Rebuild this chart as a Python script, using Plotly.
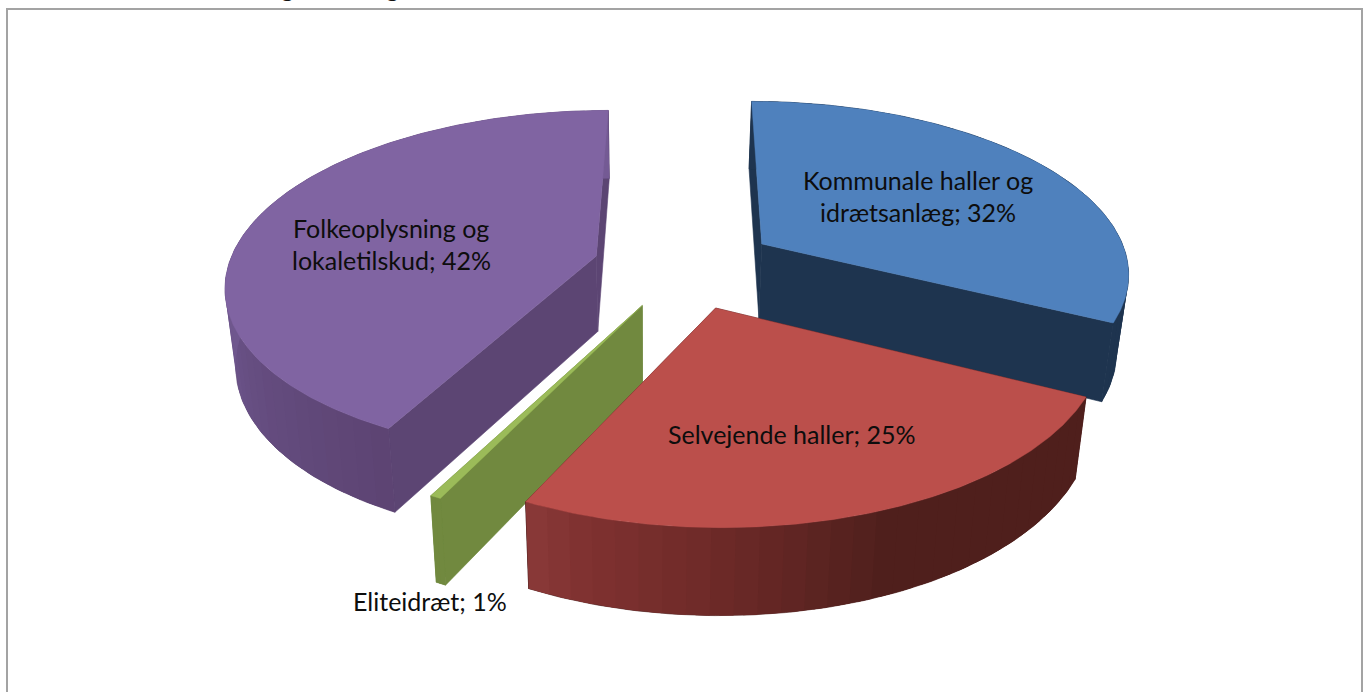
import numpy as np
import plotly.graph_objects as go

# ---- data (shares; labels show them rounded) ----
categories = ["Kommunale haller og idrætsanlæg", "Selvejende haller", "Eliteidræt", "Folkeoplysning og lokaletilskud"]
values = [32.4, 24.8, 0.4, 42.4]
label_lines = [["Kommunale haller og", "idrætsanlæg; {}%"], ["Selvejende haller; {}%"], ["Eliteidræt; {}%"], ["Folkeoplysning og", "lokaletilskud; {}%"]]
top_colors = ["#4f81bd", "#bb4f4b", "#9bbb59", "#8064a2"]
face_colors = ["#1e344f", "#4e1e1c", "#71893f", "#5c4573"]
rim_stops = [
    [(0, "#1e344f"), (360, "#1e344f")],
    [(0, "#4e1e1c"), (158, "#4f1f1c"), (183, "#702b29"), (197, "#7f3130"), (206, "#8a3a38")],
    [(0, "#71893f"), (360, "#71893f")],
    [(0, "#745a94"), (208, "#5d4473"), (235, "#644c7f"), (262, "#6f578e"), (360, "#745a94")],
]
label_pos = [(918, [180, 212]), (792, [434]), (430, [601]), (391, [228, 260])]
draw_order = [3, 0, 2, 1]

# ---- projection of the 3D pie ----
CX, CY, A, B, P, Q, H, EXPLODE = 685, 266, 368, 171, 0.155, 0.11, 76, 0.25
VANISH_X, LEAN = 650, 0.025


def project(X, Z, down=False):
    den = 1 + P * Z
    sx = CX + A * X / den
    sy = CY - B * Z / den
    if down:
        sx = sx - LEAN * (sx - VANISH_X)
        sy = sy + H / (1 + Q * Z)
    return sx, sy


def hex2rgb(c):
    return np.array([int(c[i:i + 2], 16) for i in (1, 3, 5)], float)


def rim_color(stops, deg):
    t = [s[0] for s in stops]
    rgb = np.array([hex2rgb(s[1]) for s in stops])
    return "rgb({:.0f},{:.0f},{:.0f})".format(*[np.interp(deg, t, rgb[:, k]) for k in range(3)])


fig = go.Figure()


def poly(xs, ys, color, width=0.6):
    fig.add_trace(go.Scatter(x=list(xs) + [xs[0]], y=list(ys) + [ys[0]], mode="lines", fill="toself",
                             fillcolor=color, line=dict(color=color, width=width), hoverinfo="skip", showlegend=False))


bounds = np.concatenate([[0], np.cumsum(values)]) / sum(values) * 360
for i in draw_order:
    t0, t1 = bounds[i], bounds[i + 1]
    mid = np.radians((t0 + t1) / 2)
    ox, oz = EXPLODE * np.sin(mid), EXPLODE * np.cos(mid)

    def pt(deg, r=1.0, down=False):
        a = np.radians(deg)
        return project(ox + r * np.sin(a), oz + r * np.cos(a), down)

    # radial faces
    for deg in (t1, t0):
        p = [pt(deg, 0), pt(deg, 1), pt(deg, 1, True), pt(deg, 0, True)]
        poly([q[0] for q in p], [q[1] for q in p], face_colors[i])
    # one solid rim beneath the bands, so the page never shows between them
    arc = np.linspace(t0, t1, max(3, int(t1 - t0)))
    p = [pt(d) for d in arc] + [pt(d, 1, True) for d in arc[::-1]]
    poly([q[0] for q in p], [q[1] for q in p], face_colors[i], width=0.6)
    # rim, in narrow overlapping bands
    n = max(2, int((t1 - t0) / 3))
    edges = np.linspace(t0, t1, n + 1)
    for a0, a1 in zip(edges[:-1], edges[1:]):
        a1x = min(t1, a1 + (a1 - a0) * 0.6)
        arc = np.linspace(a0, a1x, 4)
        p = [pt(d) for d in arc] + [pt(d, 1, True) for d in arc[::-1]]
        poly([q[0] for q in p], [q[1] for q in p], rim_color(rim_stops[i], (a0 + a1) / 2), width=0)
    # top face
    arc = np.linspace(t0, t1, max(3, int(t1 - t0) * 2))
    p = [pt(t0, 0)] + [pt(d) for d in arc]
    poly([q[0] for q in p], [q[1] for q in p], top_colors[i], width=0.4)

# data labels
for v, lines, (lx, lys) in zip(values, label_lines, label_pos):
    for line, ly in zip(lines, lys):
        txt = line.format(max(1, int(v + 0.5))) if "{}" in line else line
        fig.add_annotation(x=lx, y=ly, text=txt, showarrow=False, xanchor="center", yanchor="middle",
                           font=dict(family="Lato, Carlito, sans-serif", size=25, color="#0d0d0d"))

# chart frame, running off the bottom of the page
fig.add_shape(type="path", path="M 7 692 L 7 9 L 1362 9 L 1362 692", line=dict(color="#a3a3a3", width=2))

# only the descenders of the cropped title above the frame remain visible
for gx in (287, 392):
    fig.add_annotation(x=gx, y=4, text="g", showarrow=False, yanchor="bottom", xanchor="center", yshift=0,
                       font=dict(family="Lato, sans-serif", size=25, color="#111111"))

fig.update_layout(
    width=1367, height=692, margin=dict(l=0, r=0, t=0, b=0), paper_bgcolor="white", plot_bgcolor="white",
    xaxis=dict(range=[0, 1367], visible=False, fixedrange=True),
    yaxis=dict(range=[692, 0], visible=False, fixedrange=True),
)
fig.write_html("out.html", config={"displayModeBar": False},
               post_script="document.body.style.margin='0';document.documentElement.style.overflow='hidden';")
